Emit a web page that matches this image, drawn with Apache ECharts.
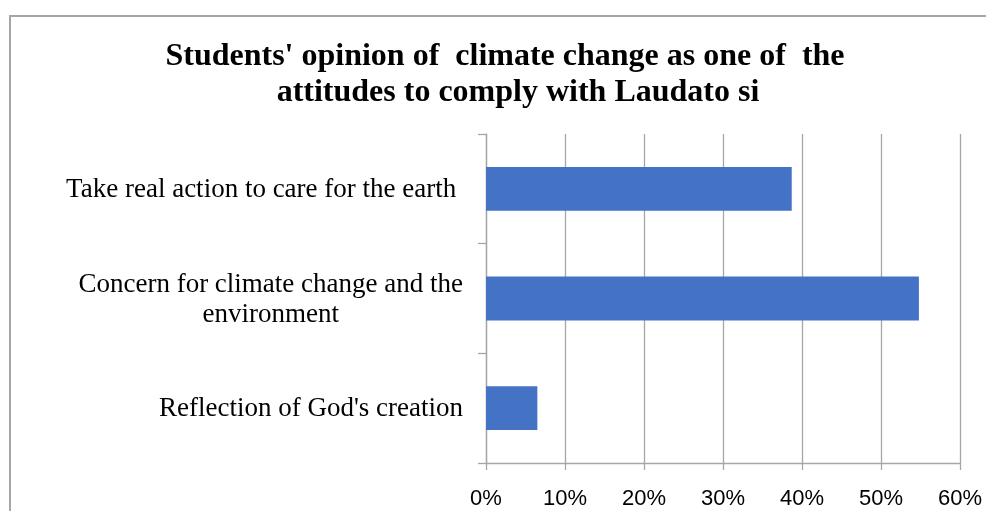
<!DOCTYPE html>
<html><head><meta charset="utf-8">
<script src="https://cdn.jsdelivr.net/npm/echarts@6/dist/echarts.min.js"></script>
<style>html,body{margin:0;padding:0;background:#fff}#c{width:986px;height:511px}</style>
</head><body><div id="c"></div>
<script>
const titleLines = ["Students' opinion of  climate change as one of  the", "attitudes to comply with Laudato si"];
const categories = ["Reflection of God's creation", "Concern for climate change and the\nenvironment", "Take real action to care for the earth "];
const values = [6.5, 54.8, 38.7];
const xTicks = [0, 10, 20, 30, 40, 50, 60];

const chart = echarts.init(document.getElementById('c'), null, {renderer: 'canvas'});
const serif = "'Liberation Serif', 'DejaVu Serif', serif";
const titleStyle = {fontFamily: serif, fontWeight: 'bold', fontSize: 32, lineHeight: 36, color: '#000'};
chart.setOption({
  animation: false,
  backgroundColor: '#fff',
  graphic: [{
    type: 'rect', shape: {x: 10, y: 16, width: 2000, height: 2000},
    style: {fill: 'none', stroke: '#a6a6a6', lineWidth: 2}, silent: true, z: -1
  }],
  title: [
    {text: titleLines[0], left: 505, top: 39, textAlign: 'center', padding: 0, textStyle: titleStyle},
    {text: titleLines[1], left: 518, top: 75, textAlign: 'center', padding: 0, textStyle: titleStyle}
  ],
  grid: {left: 486, right: 26, top: 134, bottom: 48},
  xAxis: {
    type: 'value', min: 0, max: 60, interval: 10,
    axisLine: {show: true, lineStyle: {color: '#a6a6a6', width: 1.3}},
    axisTick: {show: true, length: 7, lineStyle: {color: '#a6a6a6', width: 1.3}},
    splitLine: {show: true, lineStyle: {color: '#a6a6a6', width: 1.3}},
    axisLabel: {
      margin: 25, color: '#000', fontSize: 22,
      fontFamily: "'Liberation Sans', Arial, sans-serif",
      formatter: v => xTicks.includes(v) ? v + '%' : ''
    }
  },
  yAxis: {
    type: 'category', data: categories,
    axisLine: {show: true, lineStyle: {color: '#a6a6a6', width: 1.3}},
    axisTick: {show: true, length: 8, lineStyle: {color: '#a6a6a6', width: 1.3}},
    axisLabel: {
      margin: 23, color: '#000', fontSize: 27, fontFamily: serif,
      formatter: v => v.split('\n').map(s => '{c|' + s + '}').join('\n'),
      rich: {c: {fontSize: 27, fontFamily: serif, color: '#000', lineHeight: 30, align: 'center', padding: [2, 0, 0, 0]}}
    }
  },
  series: [{
    type: 'bar', data: values, barCategoryGap: '60%',
    itemStyle: {color: '#4472C4'}
  }]
});
</script></body></html>
